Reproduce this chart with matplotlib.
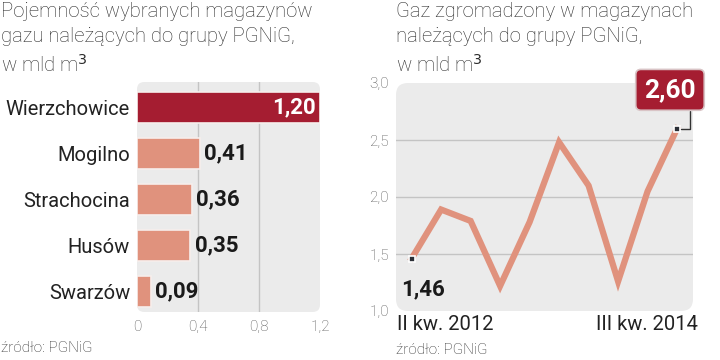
import matplotlib
matplotlib.use("Agg")
import matplotlib.pyplot as plt
from matplotlib.patches import FancyBboxPatch
from matplotlib.transforms import offset_copy

# data
stores = ["Wierzchowice", "Mogilno", "Strachocina", "Husów", "Swarzów"]
capacity = [1.20, 0.41, 0.36, 0.35, 0.09]
cap_labels = ["1,20", "0,41", "0,36", "0,35", "0,09"]
cap_ticks = [0, 0.4, 0.8, 1.2]
cap_ticklabels = ["0", "0,4", "0,8", "1,2"]

quarters = ["II kw. 2012", "III kw. 2012", "IV kw. 2012", "I kw. 2013", "II kw. 2013",
            "III kw. 2013", "IV kw. 2013", "I kw. 2014", "II kw. 2014", "III kw. 2014"]
stored = [1.46, 1.89, 1.79, 1.22, 1.78, 2.48, 2.10, 1.26, 2.05, 2.60]
stored_ticks = [1.0, 1.5, 2.0, 2.5, 3.0]
stored_ticklabels = ["1,0", "1,5", "2,0", "2,5", "3,0"]

DARK = "#a51d31"
SALMON = "#e0927d"
BG = "#ebebeb"
GRID = "#c4c4c4"
BOLD = ["Liberation Sans Narrow", "Roboto", "DejaVu Sans"]

plt.rcParams["font.family"] = ["Roboto", "DejaVu Sans"]

fig = plt.figure(figsize=(7.2, 3.6), dpi=100)
fig.patch.set_facecolor("white")


def rounded_bg(ax):
    ax.set_facecolor("none")
    bg = FancyBboxPatch((0, 0), 1, 1, boxstyle="round,pad=0,rounding_size=0.04",
                        mutation_aspect=ax.bbox.width / ax.bbox.height,
                        transform=ax.transAxes, facecolor=BG, edgecolor="none",
                        zorder=0, clip_on=False)
    ax.add_patch(bg)
    for s in ax.spines.values():
        s.set_visible(False)


# left: bar chart
ax1 = fig.add_axes([137 / 720, 1 - 312 / 360, 183 / 720, 230 / 360])
rounded_bg(ax1)
ypos = list(range(len(stores)))
colors = [DARK] + [SALMON] * (len(stores) - 1)
ax1.barh(ypos, capacity, height=0.68, color=colors, edgecolor="#f6eeec",
         linewidth=1.2, zorder=3)
for x in cap_ticks[1:-1]:
    ax1.axvline(x, color=GRID, lw=1, zorder=1)
ax1.set_xlim(0, 1.2)
ax1.set_ylim(4.45, -0.55)
ax1.set_xticks(cap_ticks)
ax1.set_xticklabels(cap_ticklabels, fontsize=11, color="#555555", fontweight="light")
ax1.set_yticks(ypos)
ax1.set_yticklabels(stores, fontsize=14.5, color="#222222")
ax1.tick_params(length=0, pad=5)
ax1.tick_params(axis="x", pad=6)
for i, (v, lab) in enumerate(zip(capacity, cap_labels)):
    if i == 0:
        ax1.text(v - 0.03, i, lab, ha="right", va="center", color="white",
                 fontsize=16, fontweight="bold", family=BOLD, zorder=4)
    else:
        ax1.text(v + 0.03, i, lab, ha="left", va="center", color="#1a1a1a",
                 fontsize=16, fontweight="bold", family=BOLD, zorder=4)

fig.text(1 / 720, 1 - 2 / 360,
         "Pojemność wybranych magazynów\ngazu należących do grupy PGNiG,\nw mld m$^3$",
         ha="left", va="top", fontsize=14.6, fontweight="light", color="#2a2a2a",
         linespacing=1.42)
fig.text(1 / 720, 1 - 348 / 360, "źródło: PGNiG", ha="left", va="center",
         fontsize=11, fontweight="light", color="#2a2a2a")

# right: line chart
ax2 = fig.add_axes([396 / 720, 1 - 311 / 360, 297 / 720, 228 / 360])
rounded_bg(ax2)
xs = list(range(len(quarters)))
for y in stored_ticks[1:-1]:
    ax2.axhline(y, color=GRID, lw=1, zorder=1)
ax2.plot(xs, stored, color=SALMON, lw=4.5, solid_joinstyle="miter", zorder=3)
ax2.plot([xs[0], xs[-1]], [stored[0], stored[-1]], ls="none", marker="s",
         ms=5, mfc="#2b2f36", mec="white", mew=1.2, zorder=5)
ax2.set_xlim(-0.53, 9.54)
ax2.set_ylim(1.0, 3.0)
ax2.set_yticks(stored_ticks)
ax2.set_yticklabels(stored_ticklabels, fontsize=11, color="#555555", fontweight="light")
ax2.set_xticks([xs[0], xs[-1]])
ax2.set_xticklabels([quarters[0], quarters[-1]], fontsize=14.5, color="#222222")
ax2.tick_params(length=0, pad=5)
ax2.tick_params(axis="x", pad=3)
lbl0, lbl1 = ax2.get_xticklabels()
lbl0.set_horizontalalignment("left")
lbl1.set_horizontalalignment("right")
lbl0.set_transform(offset_copy(lbl0.get_transform(), fig=fig, x=-15, y=0, units="dots"))
lbl1.set_transform(offset_copy(lbl1.get_transform(), fig=fig, x=21, y=0, units="dots"))

ax2.text(xs[0] - 0.35, stored[0] - 0.27, "1,46", ha="left", va="center",
         fontsize=16, fontweight="bold", family=BOLD, color="#1a1a1a", zorder=4)
ax2.annotate("2,60", xy=(xs[-1], stored[-1]), xytext=(8.76, 2.94),
             ha="center", va="center", fontsize=19, fontweight="bold",
             family=BOLD, color="white", zorder=6, annotation_clip=False,
             bbox=dict(boxstyle="round,pad=0.32,rounding_size=0.2", fc=DARK,
                       ec="#d9c4c6", lw=1.2),
             arrowprops=dict(arrowstyle="-", color="#333333", lw=1,
                             relpos=(0.88, 0.0),
                             connectionstyle="angle,angleA=90,angleB=0,rad=0",
                             shrinkA=0, shrinkB=3))

fig.text(396 / 720, 1 - 350 / 360, "źródło: PGNiG", ha="left", va="center",
         fontsize=11, fontweight="light", color="#2a2a2a")
fig.text(396 / 720, 1 - 2 / 360,
         "Gaz zgromadzony w magazynach\nnależących do grupy PGNiG,\nw mld m$^3$",
         ha="left", va="top", fontsize=14.6, fontweight="light", color="#2a2a2a",
         linespacing=1.42)

fig.savefig("out.png", dpi=100)
